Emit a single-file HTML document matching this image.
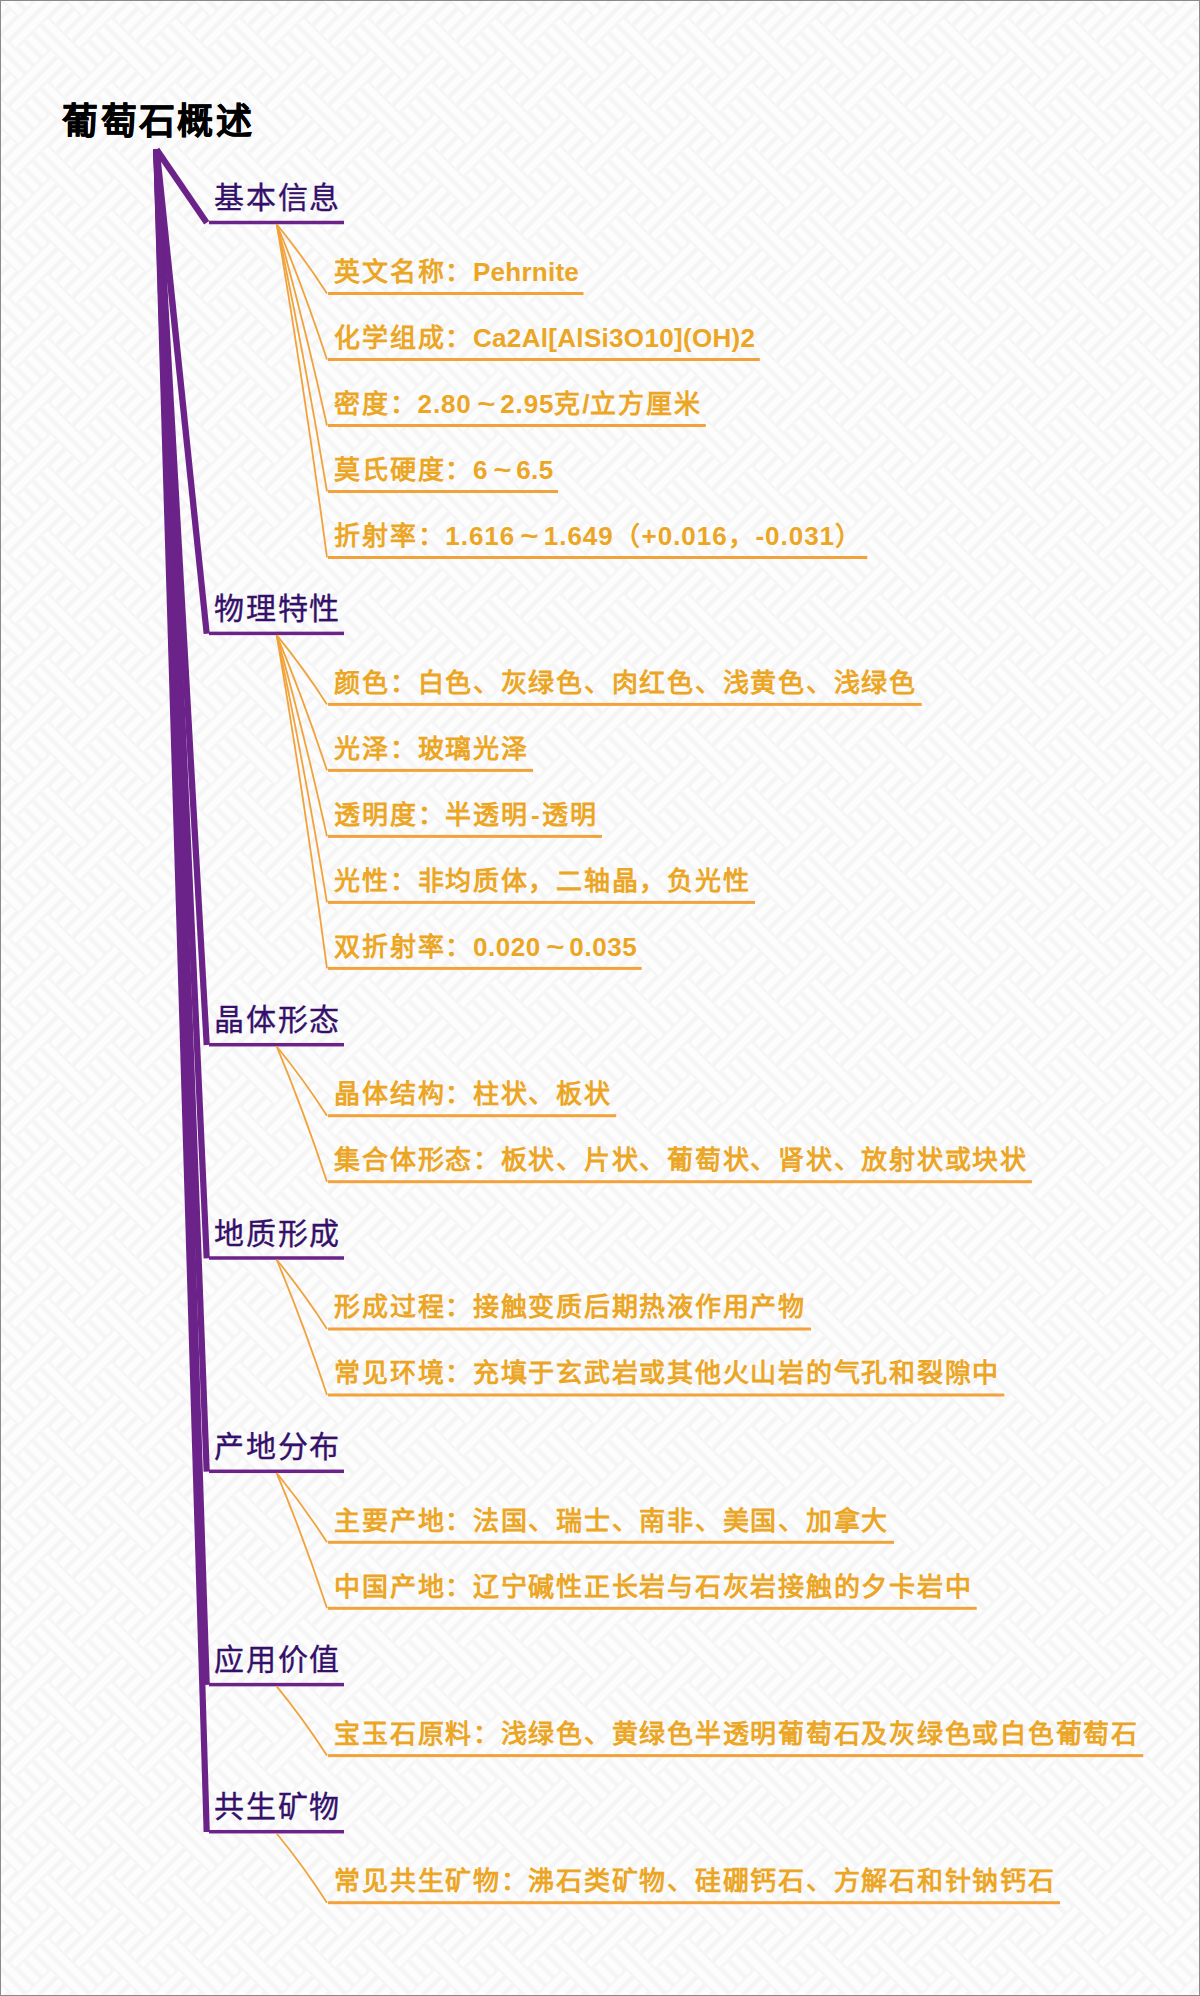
<!DOCTYPE html>
<html lang="zh-CN"><head><meta charset="utf-8"><style>
html,body{margin:0;padding:0;}
body{width:1200px;height:1996px;position:relative;overflow:hidden;background:#fff;font-family:"Liberation Sans",sans-serif;}
svg{position:absolute;left:0;top:0;}
.t{position:absolute;white-space:nowrap;line-height:1;}
.title{position:absolute;left:62.3px;top:104.4px;font-size:36px;font-weight:bold;letter-spacing:2.4px;color:#000;white-space:nowrap;line-height:1;-webkit-text-stroke:0.5px #000;}
.cat{position:absolute;left:214.3px;font-size:30px;letter-spacing:1.7px;color:#34106a;white-space:nowrap;line-height:1;-webkit-text-stroke:0.35px #34106a;}
.tl{display:inline-block;width:28.5px;text-align:center;transform:scaleX(1.2);}
.leaf{position:absolute;left:334.3px;font-size:26px;font-weight:bold;color:#eca625;white-space:nowrap;line-height:1;}
</style></head><body>
<svg width="1200" height="1996" viewBox="0 0 1200 1996">
<defs><pattern id="bw" patternUnits="userSpaceOnUse" width="90.508" height="90.508" patternTransform="translate(17,-15) rotate(45)"><rect width="90.508" height="90.508" fill="#f5f5f5"/><g fill="#fdfdfd"><rect x="0.000" y="2.357" width="22.627" height="6.6"/><rect x="0.000" y="13.670" width="22.627" height="6.6"/><rect x="24.984" y="0.000" width="6.6" height="22.627"/><rect x="36.297" y="0.000" width="6.6" height="22.627"/><rect x="45.254" y="2.357" width="22.627" height="6.6"/><rect x="45.254" y="13.670" width="22.627" height="6.6"/><rect x="67.881" y="2.357" width="22.627" height="6.6"/><rect x="67.881" y="13.670" width="22.627" height="6.6"/><rect x="2.357" y="22.627" width="6.6" height="22.627"/><rect x="13.670" y="22.627" width="6.6" height="22.627"/><rect x="24.984" y="22.627" width="6.6" height="22.627"/><rect x="36.297" y="22.627" width="6.6" height="22.627"/><rect x="45.254" y="24.984" width="22.627" height="6.6"/><rect x="45.254" y="36.297" width="22.627" height="6.6"/><rect x="70.238" y="22.627" width="6.6" height="22.627"/><rect x="81.551" y="22.627" width="6.6" height="22.627"/><rect x="0.000" y="47.611" width="22.627" height="6.6"/><rect x="0.000" y="58.924" width="22.627" height="6.6"/><rect x="22.627" y="47.611" width="22.627" height="6.6"/><rect x="22.627" y="58.924" width="22.627" height="6.6"/><rect x="45.254" y="47.611" width="22.627" height="6.6"/><rect x="45.254" y="58.924" width="22.627" height="6.6"/><rect x="70.238" y="45.254" width="6.6" height="22.627"/><rect x="81.551" y="45.254" width="6.6" height="22.627"/><rect x="0.000" y="70.238" width="22.627" height="6.6"/><rect x="0.000" y="81.551" width="22.627" height="6.6"/><rect x="24.984" y="67.881" width="6.6" height="22.627"/><rect x="36.297" y="67.881" width="6.6" height="22.627"/><rect x="47.611" y="67.881" width="6.6" height="22.627"/><rect x="58.924" y="67.881" width="6.6" height="22.627"/><rect x="70.238" y="67.881" width="6.6" height="22.627"/><rect x="81.551" y="67.881" width="6.6" height="22.627"/></g></pattern></defs>
<rect width="1200" height="1996" fill="url(#bw)"/>
<rect x="0.5" y="0.5" width="1199" height="1995" fill="none" stroke="#8a8a8a" stroke-width="1"/>
<polygon fill="#6b2389" points="153.78,151.36 204.14,224.55 209.26,221.05 159.22,147.64"/>
<rect x="209" y="220.75" width="135" height="3.5" fill="#6b2389"/>
<path d="M276.70,224.25 Q303.36,256.80 327.00,293.50" fill="none" stroke="#f2a23a" stroke-width="1.8"/>
<rect x="328" y="292.00" width="255.50" height="3" fill="#f2a23a"/>
<path d="M276.70,224.25 Q303.36,287.82 327.00,359.50" fill="none" stroke="#f2a23a" stroke-width="1.8"/>
<rect x="328" y="358.00" width="431.80" height="3" fill="#f2a23a"/>
<path d="M276.70,224.25 Q303.36,318.84 327.00,425.50" fill="none" stroke="#f2a23a" stroke-width="1.8"/>
<rect x="328" y="424.00" width="377.80" height="3" fill="#f2a23a"/>
<path d="M276.70,224.25 Q303.36,349.86 327.00,491.50" fill="none" stroke="#f2a23a" stroke-width="1.8"/>
<rect x="328" y="490.00" width="230.00" height="3" fill="#f2a23a"/>
<path d="M276.70,224.25 Q303.36,380.88 327.00,557.50" fill="none" stroke="#f2a23a" stroke-width="1.8"/>
<rect x="328" y="556.00" width="539.30" height="3" fill="#f2a23a"/>
<polygon fill="#6b2389" points="153.22,149.84 203.62,634.02 209.78,633.38 159.78,149.16"/>
<rect x="209" y="631.65" width="135" height="3.5" fill="#6b2389"/>
<path d="M276.70,635.15 Q303.36,667.70 327.00,704.40" fill="none" stroke="#f2a23a" stroke-width="1.8"/>
<rect x="328" y="702.90" width="593.80" height="3" fill="#f2a23a"/>
<path d="M276.70,635.15 Q303.36,698.72 327.00,770.40" fill="none" stroke="#f2a23a" stroke-width="1.8"/>
<rect x="328" y="768.90" width="205.00" height="3" fill="#f2a23a"/>
<path d="M276.70,635.15 Q303.36,729.74 327.00,836.40" fill="none" stroke="#f2a23a" stroke-width="1.8"/>
<rect x="328" y="834.90" width="274.00" height="3" fill="#f2a23a"/>
<path d="M276.70,635.15 Q303.36,760.76 327.00,902.40" fill="none" stroke="#f2a23a" stroke-width="1.8"/>
<rect x="328" y="900.90" width="427.00" height="3" fill="#f2a23a"/>
<path d="M276.70,635.15 Q303.36,791.78 327.00,968.40" fill="none" stroke="#f2a23a" stroke-width="1.8"/>
<rect x="328" y="966.90" width="313.70" height="3" fill="#f2a23a"/>
<polygon fill="#6b2389" points="153.21,149.68 203.60,1045.17 209.80,1044.83 159.79,149.32"/>
<rect x="209" y="1042.95" width="135" height="3.5" fill="#6b2389"/>
<path d="M276.70,1046.45 Q303.36,1079.00 327.00,1115.70" fill="none" stroke="#f2a23a" stroke-width="1.8"/>
<rect x="328" y="1114.20" width="288.20" height="3" fill="#f2a23a"/>
<path d="M276.70,1046.45 Q303.36,1110.02 327.00,1181.70" fill="none" stroke="#f2a23a" stroke-width="1.8"/>
<rect x="328" y="1180.20" width="703.90" height="3" fill="#f2a23a"/>
<polygon fill="#6b2389" points="153.20,149.65 203.60,1258.44 209.80,1258.16 159.80,149.35"/>
<rect x="209" y="1256.25" width="135" height="3.5" fill="#6b2389"/>
<path d="M276.70,1259.75 Q303.36,1292.30 327.00,1329.00" fill="none" stroke="#f2a23a" stroke-width="1.8"/>
<rect x="328" y="1327.50" width="483.00" height="3" fill="#f2a23a"/>
<path d="M276.70,1259.75 Q303.36,1323.32 327.00,1395.00" fill="none" stroke="#f2a23a" stroke-width="1.8"/>
<rect x="328" y="1393.50" width="676.40" height="3" fill="#f2a23a"/>
<polygon fill="#6b2389" points="153.20,149.63 203.60,1471.72 209.80,1471.48 159.80,149.37"/>
<rect x="209" y="1469.55" width="135" height="3.5" fill="#6b2389"/>
<path d="M276.70,1473.05 Q303.36,1505.60 327.00,1542.30" fill="none" stroke="#f2a23a" stroke-width="1.8"/>
<rect x="328" y="1540.80" width="566.00" height="3" fill="#f2a23a"/>
<path d="M276.70,1473.05 Q303.36,1536.62 327.00,1608.30" fill="none" stroke="#f2a23a" stroke-width="1.8"/>
<rect x="328" y="1606.80" width="648.70" height="3" fill="#f2a23a"/>
<polygon fill="#6b2389" points="153.20,149.61 203.60,1685.00 209.80,1684.80 159.80,149.39"/>
<rect x="209" y="1682.85" width="135" height="3.5" fill="#6b2389"/>
<path d="M276.70,1686.35 Q303.36,1718.90 327.00,1755.60" fill="none" stroke="#f2a23a" stroke-width="1.8"/>
<rect x="328" y="1754.10" width="815.30" height="3" fill="#f2a23a"/>
<polygon fill="#6b2389" points="153.20,149.60 203.60,1832.09 209.80,1831.91 159.80,149.40"/>
<rect x="209" y="1829.95" width="135" height="3.5" fill="#6b2389"/>
<path d="M276.70,1833.45 Q303.36,1866.00 327.00,1902.70" fill="none" stroke="#f2a23a" stroke-width="1.8"/>
<rect x="328" y="1901.20" width="732.00" height="3" fill="#f2a23a"/>
</svg>
<div class="title">葡萄石概述</div>
<div class="cat" style="top:183.10px">基本信息</div>
<div class="leaf" style="top:258.80px"><span style="letter-spacing:1.74px">英文名称：</span><span style="letter-spacing:0.246px">Pehrnite</span></div>
<div class="leaf" style="top:324.80px"><span style="letter-spacing:1.74px">化学组成：</span><span style="letter-spacing:0.317px">Ca2Al[AlSi3O10](OH)2</span></div>
<div class="leaf" style="top:390.80px"><span style="letter-spacing:1.74px">密度：</span><span style="letter-spacing:0.899px">2.80</span><span class="tl">~</span><span style="letter-spacing:0.899px">2.95</span><span style="letter-spacing:1.74px">克</span><span style="letter-spacing:0.899px">/</span><span style="letter-spacing:1.74px">立方厘米</span></div>
<div class="leaf" style="top:456.80px"><span style="letter-spacing:1.74px">莫氏硬度：</span><span style="letter-spacing:0.347px">6</span><span class="tl">~</span><span style="letter-spacing:0.347px">6.5</span></div>
<div class="leaf" style="top:522.80px"><span style="letter-spacing:1.74px">折射率：</span><span style="letter-spacing:0.985px">1.616</span><span class="tl">~</span><span style="letter-spacing:0.985px">1.649</span><span style="letter-spacing:1.74px">（</span><span style="letter-spacing:0.985px">+0.016</span><span style="letter-spacing:1.74px">，</span><span style="letter-spacing:0.985px">-0.031</span><span style="letter-spacing:1.74px">）</span></div>
<div class="cat" style="top:594.00px">物理特性</div>
<div class="leaf" style="top:669.70px"><span style="letter-spacing:1.74px">颜色：白色、灰绿色、肉红色、浅黄色、浅绿色</span></div>
<div class="leaf" style="top:735.70px"><span style="letter-spacing:1.74px">光泽：玻璃光泽</span></div>
<div class="leaf" style="top:801.70px"><span style="letter-spacing:1.74px">透明度：半透明</span><span style="margin-left:2.44px;letter-spacing:2.44px">-</span><span style="letter-spacing:1.74px">透明</span></div>
<div class="leaf" style="top:867.70px"><span style="letter-spacing:1.74px">光性：非均质体，二轴晶，负光性</span></div>
<div class="leaf" style="top:933.70px"><span style="letter-spacing:1.74px">双折射率：</span><span style="letter-spacing:0.557px">0.020</span><span class="tl">~</span><span style="letter-spacing:0.557px">0.035</span></div>
<div class="cat" style="top:1005.30px">晶体形态</div>
<div class="leaf" style="top:1081.00px"><span style="letter-spacing:1.74px">晶体结构：柱状、板状</span></div>
<div class="leaf" style="top:1147.00px"><span style="letter-spacing:1.74px">集合体形态：板状、片状、葡萄状、肾状、放射状或块状</span></div>
<div class="cat" style="top:1218.60px">地质形成</div>
<div class="leaf" style="top:1294.30px"><span style="letter-spacing:1.74px">形成过程：接触变质后期热液作用产物</span></div>
<div class="leaf" style="top:1360.30px"><span style="letter-spacing:1.74px">常见环境：充填于玄武岩或其他火山岩的气孔和裂隙中</span></div>
<div class="cat" style="top:1431.90px">产地分布</div>
<div class="leaf" style="top:1507.60px"><span style="letter-spacing:1.74px">主要产地：法国、瑞士、南非、美国、加拿大</span></div>
<div class="leaf" style="top:1573.60px"><span style="letter-spacing:1.74px">中国产地：辽宁碱性正长岩与石灰岩接触的夕卡岩中</span></div>
<div class="cat" style="top:1645.20px">应用价值</div>
<div class="leaf" style="top:1720.90px"><span style="letter-spacing:1.74px">宝玉石原料：浅绿色、黄绿色半透明葡萄石及灰绿色或白色葡萄石</span></div>
<div class="cat" style="top:1792.30px">共生矿物</div>
<div class="leaf" style="top:1868.00px"><span style="letter-spacing:1.74px">常见共生矿物：沸石类矿物、硅硼钙石、方解石和针钠钙石</span></div>
</body></html>
